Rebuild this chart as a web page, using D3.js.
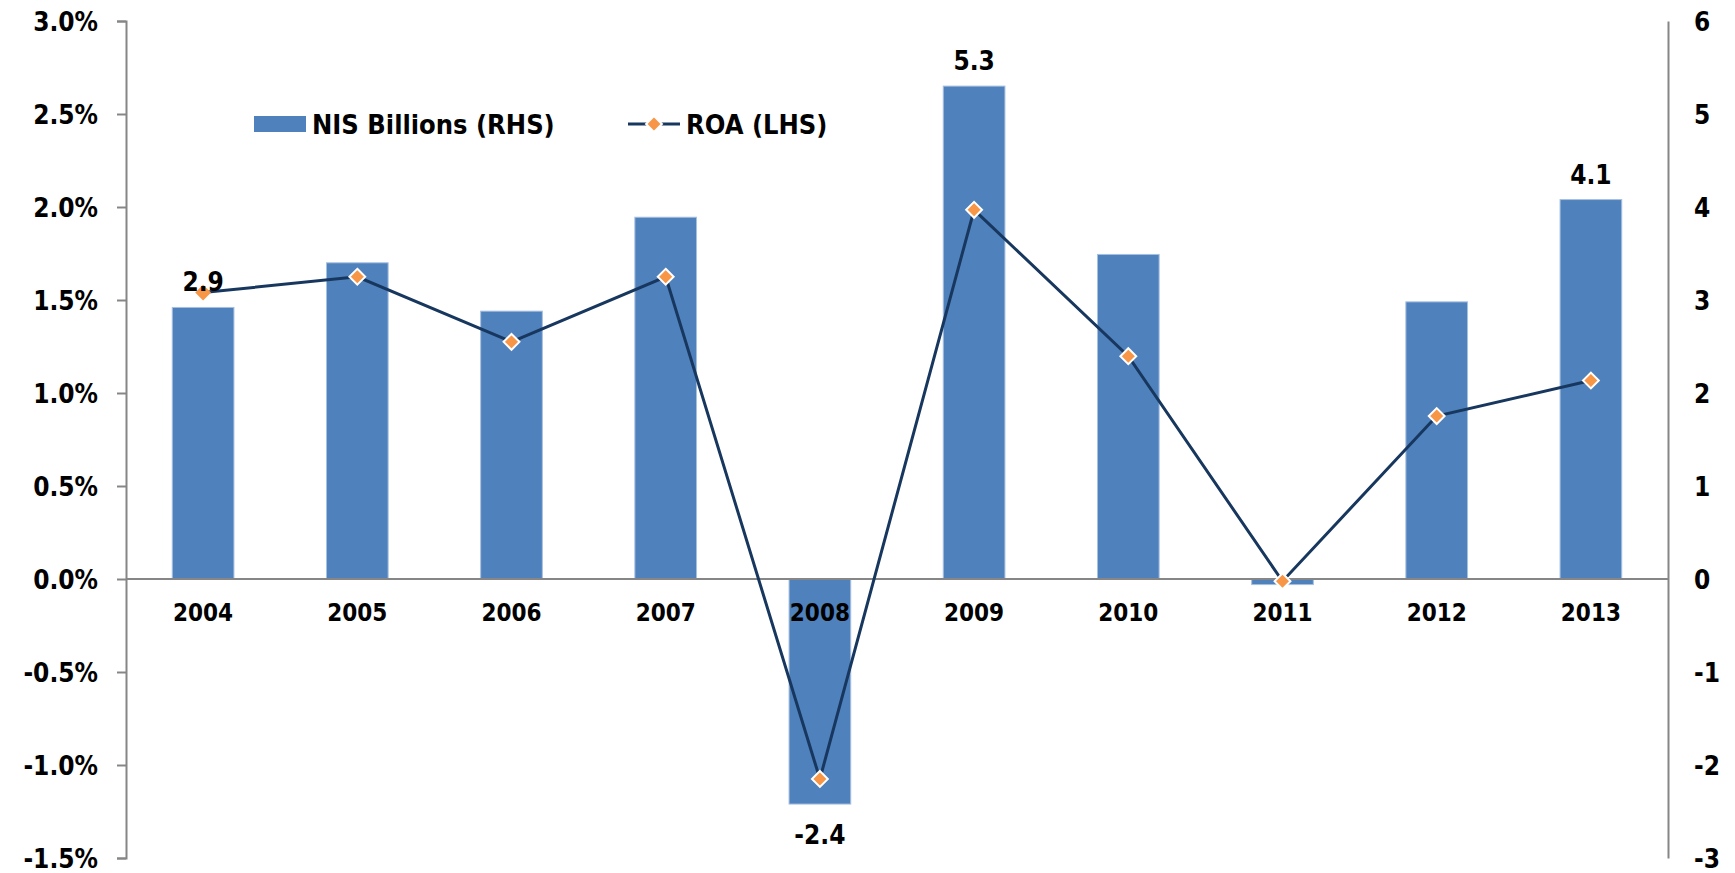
<!DOCTYPE html>
<html>
<head>
<meta charset="utf-8">
<script src="https://cdn.jsdelivr.net/npm/d3@7"></script>
<style>
  body { margin: 0; background: #fff; }
  svg text { font-family: "DejaVu Sans Condensed", "DejaVu Sans", sans-serif; font-weight: bold; fill: #000; }
</style>
</head>
<body>
<div id="chart"></div>
<script>
// données
const years = ["2004", "2005", "2006", "2007", "2008", "2009", "2010", "2011", "2012", "2013"];
const nisBillions = [2.92, 3.40, 2.88, 3.89, -2.42, 5.30, 3.49, -0.06, 2.98, 4.08];
const roa = [1.54, 1.625, 1.275, 1.625, -1.075, 1.985, 1.198, -0.012, 0.876, 1.067];
const leftTicks = [-1.5, -1.0, -0.5, 0.0, 0.5, 1.0, 1.5, 2.0, 2.5, 3.0];
const rightTicks = [-3, -2, -1, 0, 1, 2, 3, 4, 5, 6];
const labelled = { "2004": "2.9", "2008": "-2.4", "2009": "5.3", "2013": "4.1" };

const width = 1735;
const height = 873;
const plotLeft = 126, plotRight = 1668, plotTop = 21, plotBottom = 858;

const svg = d3.select("#chart").append("svg")
    .attr("width", width)
    .attr("height", height);

const x = d3.scaleBand()
    .domain(years)
    .range([plotLeft, plotRight])
    .paddingInner(0.6)
    .paddingOuter(0.3);

const yL = d3.scaleLinear().domain([-1.5, 3]).range([plotBottom, plotTop]);
const yR = d3.scaleLinear().domain([-3, 6]).range([plotBottom, plotTop]);

// barres
svg.append("g").selectAll("rect")
    .data(years)
    .enter().append("rect")
    .attr("x", d => x(d))
    .attr("width", x.bandwidth())
    .attr("y", (d, i) => yR(Math.max(0, nisBillions[i])))
    .attr("height", (d, i) => Math.abs(yR(nisBillions[i]) - yR(0)))
    .attr("fill", "#4f81bd")
    .attr("stroke", "#a7c0e0")
    .attr("stroke-width", 1);

// axe gauche
const axisL = svg.append("g")
    .attr("transform", `translate(${plotLeft},0)`)
    .call(d3.axisLeft(yL).tickValues(leftTicks).tickSize(9).tickPadding(19)
        .tickFormat(d => d.toFixed(1) + "%"));
axisL.select(".domain").attr("stroke", "#868686").attr("stroke-width", 2);
axisL.selectAll(".tick line").attr("stroke", "#868686").attr("stroke-width", 2);
axisL.selectAll(".tick text").attr("font-size", 26).attr("dy", "0.36em");

// axe droit
const axisR = svg.append("g")
    .attr("transform", `translate(${plotRight},0)`)
    .call(d3.axisRight(yR).tickValues(rightTicks).tickSize(0).tickPadding(26)
        .tickFormat(d => String(d)));
axisR.select(".domain").attr("stroke", "#868686").attr("stroke-width", 2);
axisR.selectAll(".tick text").attr("font-size", 26).attr("dy", "0.36em");

// ligne zéro + années
svg.append("line")
    .attr("x1", plotLeft).attr("x2", plotRight)
    .attr("y1", yR(0)).attr("y2", yR(0))
    .attr("stroke", "#868686").attr("stroke-width", 2);

svg.append("g").selectAll("text")
    .data(years)
    .enter().append("text")
    .attr("x", d => x(d) + x.bandwidth() / 2)
    .attr("y", yR(0) + 42)
    .attr("text-anchor", "middle")
    .attr("font-size", 24)
    .text(d => d);

// ligne ROA
const line = d3.line()
    .x((d, i) => x(years[i]) + x.bandwidth() / 2)
    .y(d => yL(d));

svg.append("path")
    .datum(roa)
    .attr("d", line)
    .attr("fill", "none")
    .attr("stroke", "#17375e")
    .attr("stroke-width", 3);

const diamond = d3.symbol().type(d3.symbolDiamond2).size(160);
svg.append("g").selectAll("path")
    .data(roa)
    .enter().append("path")
    .attr("d", diamond)
    .attr("transform", (d, i) => `translate(${x(years[i]) + x.bandwidth() / 2},${yL(d)})`)
    .attr("fill", "#f79646")
    .attr("stroke", (d, i) => i === 0 ? "none" : "#fff")
    .attr("stroke-width", 2);

// étiquettes de valeurs
svg.append("g").selectAll("text")
    .data(years.filter(d => labelled[d]))
    .enter().append("text")
    .attr("x", d => x(d) + x.bandwidth() / 2)
    .attr("y", d => {
        const v = nisBillions[years.indexOf(d)];
        return v >= 0 ? yR(v) - 16 : yR(v) + 40;
    })
    .attr("text-anchor", "middle")
    .attr("font-size", 26)
    .text(d => labelled[d]);

// légende
const legend = svg.append("g");
legend.append("rect")
    .attr("x", 254).attr("y", 116)
    .attr("width", 52).attr("height", 16)
    .attr("fill", "#4f81bd");
legend.append("text")
    .attr("x", 312).attr("y", 134)
    .attr("font-size", 27)
    .text("NIS Billions (RHS)");
legend.append("line")
    .attr("x1", 628).attr("x2", 680)
    .attr("y1", 124).attr("y2", 124)
    .attr("stroke", "#17375e").attr("stroke-width", 3);
legend.append("path")
    .attr("d", diamond)
    .attr("transform", "translate(654,124)")
    .attr("fill", "#f79646")
    .attr("stroke", "#fff")
    .attr("stroke-width", 2);
legend.append("text")
    .attr("x", 686).attr("y", 134)
    .attr("font-size", 27)
    .text("ROA (LHS)");
</script>
</body>
</html>
